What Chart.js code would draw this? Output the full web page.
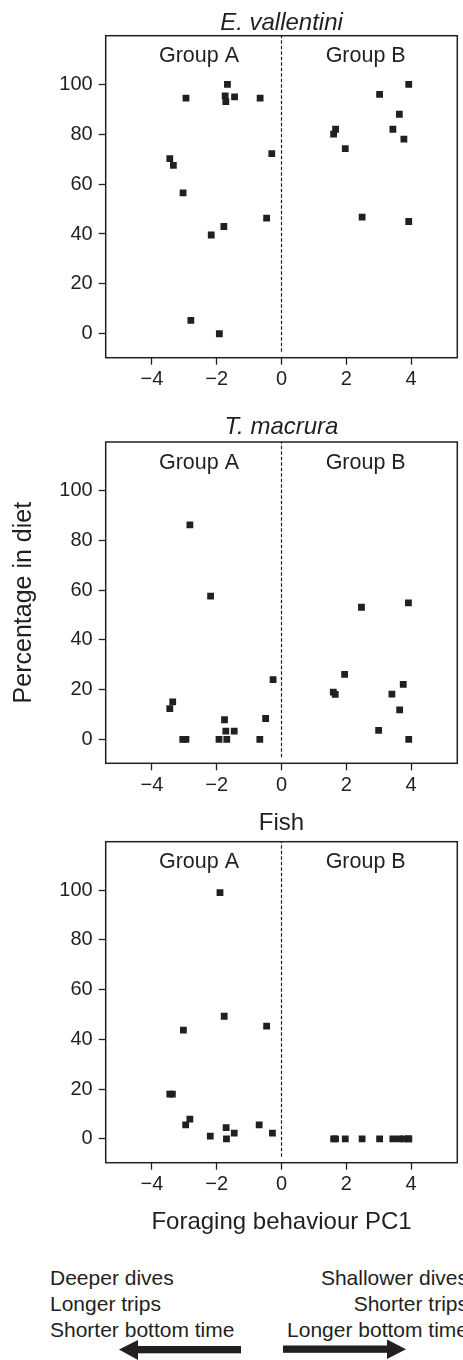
<!DOCTYPE html>
<html>
<head>
<meta charset="utf-8">
<script src="https://cdn.jsdelivr.net/npm/chart.js"></script>
<style>
  html, body { margin: 0; padding: 0; background: #fff; }
  body { width: 463px; height: 1360px; position: relative; overflow: hidden;
         font-family: "Liberation Sans", Arial, Helvetica, sans-serif; color: #231f20; }
  .panel { position: absolute; left: 0; width: 463px; }
  .notes { position: absolute; top: 1265px; font-size: 21px; line-height: 26px; white-space: nowrap; }
  #arrows { position: absolute; left: 0; top: 1330px; }
</style>
</head>
<body>
<div class="panel" style="top:0px;height:406px"><canvas id="c0"></canvas></div>
<div class="panel" style="top:406px;height:400px"><canvas id="c1"></canvas></div>
<div class="panel" style="top:806px;height:444px"><canvas id="c2"></canvas></div>

<div class="notes" style="left:50px;text-align:left">Deeper dives<br>Longer trips<br>Shorter bottom time</div>
<div class="notes" style="left:250px;width:218px;text-align:right">Shallower dives<br>Shorter trips<br>Longer bottom time</div>

<svg id="arrows" width="463" height="30">
  <rect x="136" y="16" width="105" height="7.3" fill="#231f20"/>
  <polygon points="119,19.6 138,10 138,30" fill="#231f20"/>
  <rect x="283" y="15.5" width="106" height="7.3" fill="#231f20"/>
  <polygon points="406,19.2 387,9.5 387,29" fill="#231f20"/>
</svg>

<script>
  // PC1 score (x) and percentage in diet (y) per individual, group A first then group B
  const vallentiniX = [-1.67, -2.95, -1.74, -1.72, -1.45, -0.66, -0.30, -3.45, -3.34, -3.04, -1.78, -0.46, -2.17, -2.80, -1.92,
                       3.93, 3.03, 3.64, 1.67, 1.61, 3.44, 3.78, 1.97, 2.49, 3.93]
  const vallentiniY = [100, 94.5, 95.4, 93.1, 95, 94.5, 72.2, 70.2, 67.5, 56.5, 43, 46.4, 39.6, 5.4, 0,
                       100, 96, 88, 82, 80, 82, 78, 74.2, 46.8, 45]

  const macruraX = [-2.83, -2.19, -0.26, -3.36, -3.45, -1.76, -0.49, -1.72, -1.46, -3.05, -2.95, -1.93, -1.69, -0.67,
                    2.47, 3.92, 1.95, 1.60, 1.66, 3.76, 3.41, 3.65, 3.00, 3.93]
  const macruraY = [86.2, 57.6, 24, 15.1, 12.4, 7.9, 8.4, 3.3, 3.3, 0, 0, 0, 0, 0,
                    53.1, 54.9, 26.1, 19, 18.1, 22.1, 18.2, 11.9, 3.6, 0]

  const fishX = [-1.90, -1.77, -3.03, -0.46, -3.45, -3.37, -2.83, -2.96, -1.71, -1.46, -0.69, -0.28, -2.20, -1.70,
                 1.61, 1.67, 1.97, 2.49, 3.03, 3.44, 3.64, 3.78, 3.93, 3.93]
  const fishY = [99, 49.3, 43.7, 45.3, 18, 18, 7.9, 5.6, 4.5, 2.3, 5.6, 2.3, 1.1, 0,
                 0, 0, 0, 0, 0, 0, 0, 0, 0, 0]

  const xTicks = [-4, -2, 0, 2, 4]
  const yTicks = [0, 20, 40, 60, 80, 100]
  const groupNames = ['Group A', 'Group B']
  const groupX = [-2.55, 2.6]
  const divider = [{ x: 0, y: -7.2 }, { x: 0, y: 125 }]

  const ink = '#231f20'
  Chart.defaults.font.family = "'Liberation Sans', Arial, Helvetica, sans-serif"
  Chart.defaults.color = ink

  const panels = [
    { id: 'c0', title: 'E. vallentini', italic: true, x: vallentiniX, y: vallentiniY,
      height: 406, padTop: 35.7, areaH: 322, titleGap: 5.5 },
    { id: 'c1', title: 'T. macrura', italic: true, x: macruraX, y: macruraY,
      height: 400, padTop: 36, areaH: 321.3, titleGap: 8, yTitle: 'Percentage in diet' },
    { id: 'c2', title: 'Fish', italic: false, x: fishX, y: fishY,
      height: 444, padTop: 35.7, areaH: 321, titleGap: 11.5, xTitle: 'Foraging behaviour PC1' }
  ]

  const minus = v => v < 0 ? '\u2212' + Math.abs(v) : String(v)

  // box, panel heading and group names
  const frame = {
    id: 'frame',
    afterDraw(chart, args, opts) {
      const { ctx, chartArea: a, scales } = chart
      ctx.save()
      ctx.strokeStyle = ink
      ctx.lineWidth = 1.5
      ctx.strokeRect(a.left, a.top, a.right - a.left, a.bottom - a.top)
      ctx.fillStyle = ink
      ctx.textAlign = 'center'
      ctx.textBaseline = 'alphabetic'
      ctx.font = (opts.italic ? 'italic ' : '') + "24px 'Liberation Sans', Arial, sans-serif"
      ctx.fillText(opts.title, (a.left + a.right) / 2, a.top - opts.titleGap)
      ctx.font = "21.5px 'Liberation Sans', Arial, sans-serif"
      groupNames.forEach((name, i) => {
        ctx.fillText(name, scales.x.getPixelForValue(groupX[i]), a.top + 26.5)
      })
      ctx.restore()
    }
  }

  panels.forEach(p => {
    new Chart(document.getElementById(p.id), {
      type: 'scatter',
      data: {
        datasets: [
          {
            type: 'line',
            data: divider,
            borderColor: ink,
            borderWidth: 1.2,
            borderDash: [3.5, 2],
            pointRadius: 0,
            fill: false
          },
          {
            data: p.x.map((v, i) => ({ x: v, y: p.y[i] })),
            pointStyle: 'rect',
            pointRadius: 4.8,
            pointHoverRadius: 4.8,
            pointBorderWidth: 0,
            backgroundColor: ink,
            borderColor: ink
          }
        ]
      },
      plugins: [frame],
      options: {
        responsive: true,
        maintainAspectRatio: false,
        animation: false,
        layout: { padding: { top: p.padTop, left: 0, right: 5.7, bottom: 0 } },
        plugins: {
          legend: { display: false },
          tooltip: { enabled: false },
          frame: { title: p.title, italic: p.italic, titleGap: p.titleGap }
        },
        scales: {
          x: {
            type: 'linear',
            min: -5.43,
            max: 5.43,
            afterBuildTicks: s => { s.ticks = xTicks.map(v => ({ value: v })) },
            afterFit: s => { s.height = p.height - p.padTop - p.areaH },
            ticks: { font: { size: 20 }, color: ink, padding: 3, callback: minus },
            grid: { drawOnChartArea: false, drawTicks: true, tickLength: 7, tickWidth: 1.3, tickColor: ink },
            border: { display: false },
            title: {
              display: !!p.xTitle,
              text: p.xTitle || '',
              color: ink,
              font: { size: 24 },
              padding: { top: 0, bottom: 13.6 }
            }
          },
          y: {
            type: 'linear',
            min: -9.6,
            max: 119.5,
            afterBuildTicks: s => { s.ticks = yTicks.map(v => ({ value: v })) },
            afterFit: s => { s.width = 105.7 },
            ticks: { font: { size: 20 }, color: ink, padding: 6 },
            grid: { drawOnChartArea: false, drawTicks: true, tickLength: 7, tickWidth: 1.3, tickColor: ink },
            border: { display: false },
            title: {
              display: !!p.yTitle,
              text: p.yTitle || '',
              color: ink,
              font: { size: 25 },
              padding: { top: 9, bottom: 0 }
            }
          }
        }
      }
    })
  })
</script>
</body>
</html>
